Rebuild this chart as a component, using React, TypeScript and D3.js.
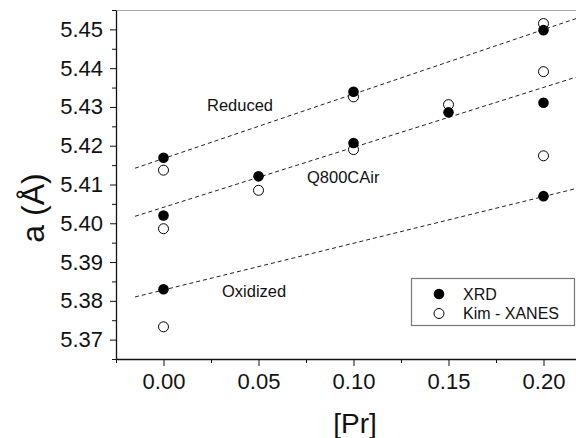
import React, { useEffect, useRef } from 'react';
import * as d3 from 'd3';

// [Pr] content of each sample
const prContent = [0, 0, 0, 0.05, 0.1, 0.1, 0.15, 0.2, 0.2, 0.2];
// lattice parameter a (Å)
const xrdValues = [5.4169, 5.402, 5.383, 5.4121, 5.4339, 5.4207, 5.4286, 5.4498, 5.4311, 5.407];
const xanesValues = [5.4137, 5.3986, 5.3733, 5.4085, 5.4326, 5.419, 5.4306, 5.4515, 5.4391, 5.4174];

// dashed guide lines (end points)
const fitX = [-0.015, 0.225];
const reducedFit = [5.4142, 5.4541];
const airFit = [5.4018, 5.4389];
const oxidizedFit = [5.381, 5.4099];

const xTicks = [0, 0.05, 0.1, 0.15, 0.2];
const yTicks = [5.37, 5.38, 5.39, 5.4, 5.41, 5.42, 5.43, 5.44, 5.45];

const width = 576,
  height = 438;
const font = '"Liberation Sans", Arial, Helvetica, sans-serif';

export default function App() {
  const ref = useRef<SVGSVGElement>(null);

  useEffect(() => {
    document.body.style.margin = '0';
    const svg = d3.select(ref.current);
    svg.selectAll('*').remove();

    const x = d3.scaleLinear().domain([-0.025, 0.225]).range([116, 591]);
    const y = d3.scaleLinear().domain([5.365, 5.455]).range([359, 10]);

    svg
      .append('clipPath')
      .attr('id', 'plot')
      .append('rect')
      .attr('x', 116)
      .attr('y', 10)
      .attr('width', 475)
      .attr('height', 349);

    // top frame line
    svg
      .append('line')
      .attr('x1', 116)
      .attr('x2', 591)
      .attr('y1', 10.5)
      .attr('y2', 10.5)
      .attr('stroke', '#aaa')
      .attr('stroke-width', 1.2);

    // guide lines
    const line = d3
      .line<number>()
      .x((d, i) => x(fitX[i]))
      .y(d => y(d));
    const guides = svg.append('g').attr('clip-path', 'url(#plot)');
    [reducedFit, airFit, oxidizedFit].forEach(f => {
      guides
        .append('path')
        .attr('d', line(f))
        .attr('fill', 'none')
        .attr('stroke', '#222')
        .attr('stroke-width', 1)
        .attr('stroke-dasharray', '4,3');
    });

    // labels
    const labels = [
      { text: 'Reduced', x: 207, y: 111 },
      { text: 'Q800CAir', x: 307, y: 183 },
      { text: 'Oxidized', x: 222, y: 297 }
    ];
    svg
      .selectAll('.lbl')
      .data(labels)
      .enter()
      .append('text')
      .attr('x', d => d.x)
      .attr('y', d => d.y)
      .attr('font-family', font)
      .attr('font-size', 16.5)
      .attr('fill', '#111')
      .text(d => d.text);

    // points: open first, filled on top
    svg
      .append('g')
      .selectAll('circle')
      .data(xanesValues)
      .enter()
      .append('circle')
      .attr('cx', (d, i) => x(prContent[i]))
      .attr('cy', d => y(d))
      .attr('r', 5)
      .attr('fill', '#fff')
      .attr('stroke', '#000')
      .attr('stroke-width', 1);

    svg
      .append('g')
      .selectAll('circle')
      .data(xrdValues)
      .enter()
      .append('circle')
      .attr('cx', (d, i) => x(prContent[i]))
      .attr('cy', d => y(d))
      .attr('r', 5.3)
      .attr('fill', '#000');

    // axes
    const xMinor = d3.range(-0.025, 0.2251, 0.05);
    const yMinor = d3.range(5.365, 5.4551, 0.01);

    const xAxis = svg.append('g').attr('transform', 'translate(0,359)');
    xAxis
      .call(
        d3
          .axisBottom(x)
          .tickValues(xMinor)
          .tickSize(4)
          .tickFormat(() => '')
      )
      .select('.domain')
      .remove();
    const xMajor = svg.append('g').attr('transform', 'translate(0,359)');
    xMajor.call(
      d3
        .axisBottom(x)
        .tickValues(xTicks)
        .tickSize(7)
        .tickSizeOuter(0)
        .tickPadding(7)
        .tickFormat(d3.format('.2f'))
    );
    xMajor.selectAll('text').attr('font-size', 22).attr('font-family', font).attr('fill', '#111');

    const yAxis = svg.append('g').attr('transform', 'translate(116,0)');
    yAxis
      .call(
        d3
          .axisLeft(y)
          .tickValues(yMinor)
          .tickSize(4)
          .tickFormat(() => '')
      )
      .select('.domain')
      .remove();
    const yMajor = svg.append('g').attr('transform', 'translate(116,0)');
    yMajor.call(
      d3
        .axisLeft(y)
        .tickValues(yTicks)
        .tickSize(6)
        .tickSizeOuter(0)
        .tickPadding(7)
        .tickFormat(d3.format('.2f'))
    );
    yMajor.selectAll('text').attr('font-size', 22).attr('font-family', font).attr('fill', '#111');

    svg.selectAll('.domain').attr('stroke-width', 1.3).attr('stroke', '#111');
    svg.selectAll('.tick line').attr('stroke', '#111');

    // axis titles
    svg
      .append('text')
      .attr('transform', 'translate(44,208) rotate(-90)')
      .attr('text-anchor', 'middle')
      .attr('font-family', font)
      .attr('font-size', 32)
      .attr('fill', '#111')
      .text('a (Å)');
    svg
      .append('text')
      .attr('x', 355)
      .attr('y', 433)
      .attr('text-anchor', 'middle')
      .attr('font-family', font)
      .attr('font-size', 28)
      .attr('fill', '#111')
      .text('[Pr]');

    // legend
    const legend = svg.append('g');
    legend
      .append('rect')
      .attr('x', 411.5)
      .attr('y', 278.5)
      .attr('width', 163)
      .attr('height', 47)
      .attr('fill', '#fff')
      .attr('stroke', '#777')
      .attr('stroke-width', 1.2);
    const entries = [
      { label: 'XRD', filled: true },
      { label: 'Kim - XANES', filled: false }
    ];
    entries.forEach((e, i) => {
      const cy = 294 + i * 19.5;
      legend
        .append('circle')
        .attr('cx', 439)
        .attr('cy', cy)
        .attr('r', e.filled ? 5.3 : 5)
        .attr('fill', e.filled ? '#000' : '#fff')
        .attr('stroke', '#000')
        .attr('stroke-width', e.filled ? 0 : 1);
      legend
        .append('text')
        .attr('x', 463)
        .attr('y', cy + 5.5)
        .attr('font-family', font)
        .attr('font-size', 16)
        .attr('fill', '#111')
        .text(e.label);
    });
  }, []);

  return <svg ref={ref} width={width} height={height} style={{ display: 'block' }} />;
}
